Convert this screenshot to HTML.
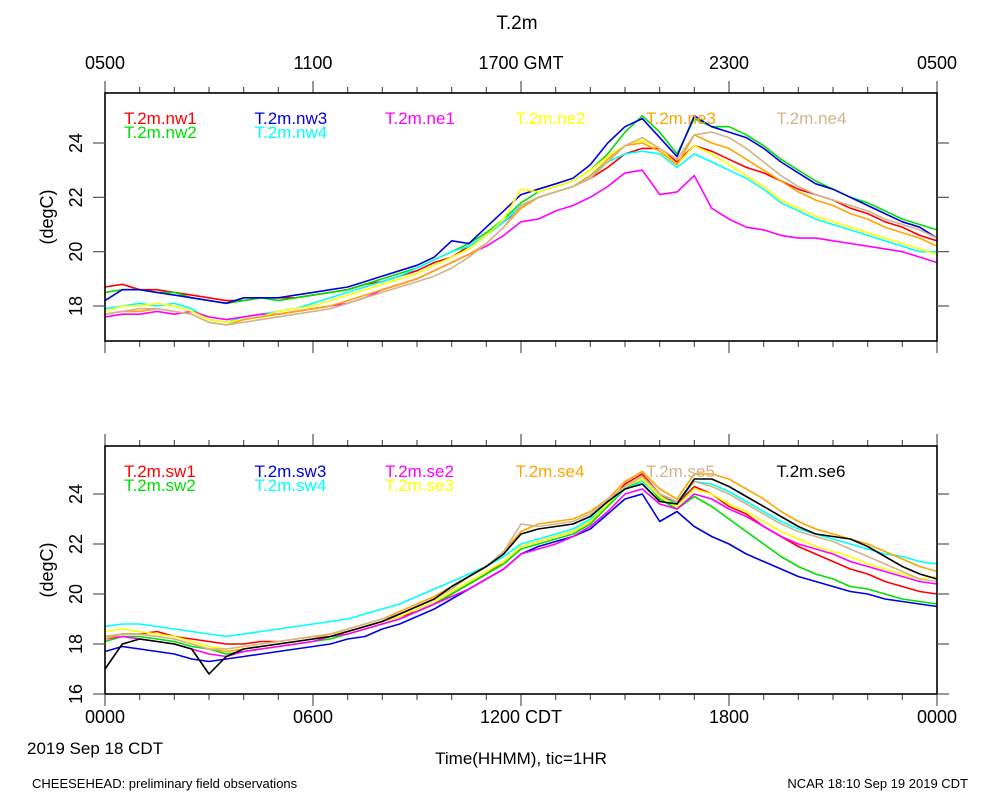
<!DOCTYPE html>
<html><head><meta charset="utf-8"><style>
body{margin:0;background:#fff;}
svg text{font-family:"Liberation Sans",sans-serif;}
</style></head><body>
<svg id="c" width="1000" height="800" xmlns="http://www.w3.org/2000/svg">
<text x="517" y="29" font-size="19" text-anchor="middle">T.2m</text>
<text x="27" y="754" font-size="17">2019 Sep 18 CDT</text>
<text x="521" y="764" font-size="17" text-anchor="middle">Time(HHMM), tic=1HR</text>
<text x="32" y="788" font-size="13">CHEESEHEAD: preliminary field observations</text>
<text x="968" y="788" font-size="13" text-anchor="end">NCAR 18:10 Sep 19 2019 CDT</text>
</svg>
<script>
const hours=[0,0.5,1,1.5,2,2.5,3,3.5,4,4.5,5,5.5,6,6.5,7,7.5,8,8.5,9,9.5,10,10.5,11,11.5,12,12.5,13,13.5,14,14.5,15,15.5,16,16.5,17,17.5,18,18.5,19,19.5,20,20.5,21,21.5,22,22.5,23,23.5,24];
const topTickLabels=["0500","1100","1700 GMT","2300","0500"];
const botTickLabels=["0000","0600","1200 CDT","1800","0000"];
const topYTicks=[18,20,22,24];
const botYTicks=[16,18,20,22,24];
const topNames=["T.2m.nw1","T.2m.nw2","T.2m.nw3","T.2m.nw4","T.2m.ne1","T.2m.ne2","T.2m.ne3","T.2m.ne4"];
const topColors=["#ff0000","#00e000","#0000e0","#00ffff","#ff00ff","#ffff00","#ffa500","#d2b48c"];
const nw1=[18.7,18.8,18.6,18.6,18.5,18.4,18.3,18.2,18.2,18.3,18.3,18.3,18.4,18.5,18.6,18.8,18.9,19.1,19.3,19.6,19.8,20.2,20.6,21.1,21.6,22.0,22.2,22.4,22.7,23.1,23.6,23.8,23.8,23.3,23.9,23.7,23.4,23.1,22.9,22.6,22.3,22.1,21.9,21.6,21.4,21.1,20.9,20.6,20.4];
const nw2=[18.5,18.6,18.6,18.5,18.5,18.3,18.2,18.1,18.2,18.3,18.2,18.3,18.4,18.5,18.6,18.8,19.0,19.2,19.4,19.7,20.0,20.3,20.7,21.2,21.8,22.2,22.4,22.6,23.0,23.6,24.4,25.0,24.4,23.6,24.9,24.6,24.6,24.3,23.9,23.4,23.0,22.6,22.3,22.0,21.8,21.5,21.2,21.0,20.8];
const nw3=[18.2,18.6,18.6,18.5,18.4,18.3,18.2,18.1,18.3,18.3,18.3,18.4,18.5,18.6,18.7,18.9,19.1,19.3,19.5,19.8,20.4,20.3,20.9,21.5,22.1,22.3,22.5,22.7,23.2,24.0,24.6,24.9,24.2,23.5,25.0,24.6,24.4,24.2,23.8,23.3,22.9,22.5,22.3,22.0,21.7,21.4,21.1,20.9,20.5];
const nw4=[17.9,18.0,18.1,18.0,18.1,17.9,17.5,17.4,17.6,17.7,17.8,17.9,18.1,18.3,18.5,18.7,18.9,19.1,19.4,19.7,20.0,20.2,20.6,21.1,21.7,22.0,22.2,22.4,22.8,23.3,23.6,23.7,23.6,23.1,23.6,23.3,23.0,22.7,22.3,21.8,21.5,21.2,21.0,20.8,20.6,20.4,20.2,20.0,20.0];
const ne1=[17.6,17.7,17.7,17.8,17.7,17.8,17.6,17.5,17.6,17.7,17.7,17.8,17.9,18.0,18.1,18.3,18.6,18.8,19.0,19.3,19.6,19.9,20.2,20.6,21.1,21.2,21.5,21.7,22.0,22.4,22.9,23.0,22.1,22.2,22.8,21.6,21.2,20.9,20.8,20.6,20.5,20.5,20.4,20.3,20.2,20.1,20.0,19.8,19.6];
const ne2=[17.8,18.0,18.0,18.1,18.0,17.8,17.5,17.4,17.5,17.6,17.8,17.9,18.0,18.2,18.4,18.6,18.8,19.0,19.2,19.5,19.8,20.1,20.6,21.2,22.3,22.2,22.4,22.6,23.0,23.5,23.9,24.1,23.8,23.2,23.9,23.6,23.2,22.8,22.4,21.9,21.6,21.3,21.1,20.9,20.7,20.5,20.3,20.1,19.9];
const ne3=[17.7,17.8,17.8,17.9,17.8,17.7,17.4,17.3,17.5,17.6,17.7,17.8,17.9,18.0,18.2,18.4,18.6,18.8,19.0,19.3,19.6,19.9,20.3,20.9,21.6,22.0,22.2,22.4,22.8,23.4,23.9,24.0,23.7,23.2,24.3,24.0,23.8,23.4,23.0,22.6,22.2,21.9,21.7,21.4,21.2,20.9,20.7,20.5,20.2];
const ne4=[17.7,17.8,17.9,17.9,17.8,17.7,17.4,17.3,17.4,17.5,17.6,17.7,17.8,17.9,18.1,18.3,18.5,18.7,18.9,19.1,19.4,19.8,20.3,20.9,21.7,22.0,22.2,22.4,22.7,23.3,23.9,24.2,23.8,23.4,24.3,24.4,24.2,23.8,23.3,22.8,22.4,22.1,21.9,21.7,21.5,21.2,21.0,20.8,20.5];
const botNames=["T.2m.sw1","T.2m.sw2","T.2m.sw3","T.2m.sw4","T.2m.se2","T.2m.se3","T.2m.se4","T.2m.se5","T.2m.se6"];
const botColors=["#ff0000","#00e000","#0000e0","#00ffff","#ff00ff","#ffff00","#ffa500","#d2b48c","#000000"];
const sw1=[18.3,18.4,18.4,18.5,18.3,18.2,18.1,18.0,18.0,18.1,18.1,18.2,18.3,18.4,18.5,18.7,18.9,19.1,19.3,19.6,20.0,20.4,20.8,21.3,21.9,22.1,22.3,22.5,22.9,23.6,24.4,24.8,24.0,23.6,24.3,24.0,23.5,23.2,22.7,22.3,21.9,21.6,21.3,21.0,20.8,20.5,20.3,20.1,20.0];
const sw2=[18.1,18.3,18.3,18.2,18.1,17.9,17.8,17.6,17.7,17.8,17.9,18.0,18.1,18.2,18.4,18.6,18.8,19.0,19.3,19.6,20.0,20.4,20.8,21.2,21.8,22.0,22.2,22.4,22.8,23.5,24.2,24.6,23.8,23.4,23.9,23.5,23.0,22.5,22.0,21.5,21.1,20.8,20.6,20.3,20.2,20.0,19.8,19.7,19.6];
const sw3=[17.7,17.9,17.8,17.7,17.6,17.4,17.3,17.4,17.5,17.6,17.7,17.8,17.9,18.0,18.2,18.3,18.6,18.8,19.1,19.4,19.8,20.2,20.6,21.0,21.6,21.9,22.1,22.3,22.6,23.2,23.8,24.0,22.9,23.3,22.7,22.3,22.0,21.6,21.3,21.0,20.7,20.5,20.3,20.1,20.0,19.8,19.7,19.6,19.5];
const sw4=[18.7,18.8,18.8,18.7,18.6,18.5,18.4,18.3,18.4,18.5,18.6,18.7,18.8,18.9,19.0,19.2,19.4,19.6,19.9,20.2,20.5,20.8,21.1,21.5,22.0,22.2,22.4,22.6,23.0,23.6,24.2,24.5,23.9,23.6,24.5,24.4,24.1,23.7,23.3,22.9,22.6,22.4,22.2,22.0,21.8,21.6,21.5,21.3,21.2];
const se2=[18.2,18.3,18.2,18.1,18.0,17.8,17.6,17.5,17.7,17.8,17.9,18.0,18.1,18.3,18.4,18.6,18.8,19.0,19.3,19.6,19.9,20.2,20.6,21.0,21.6,21.8,22.0,22.3,22.7,23.3,24.0,24.2,23.6,23.4,24.0,23.8,23.4,23.1,22.7,22.3,22.0,21.8,21.6,21.3,21.1,20.9,20.7,20.5,20.4];
const se3=[18.5,18.6,18.5,18.4,18.3,18.1,17.9,17.8,17.9,18.0,18.1,18.2,18.3,18.4,18.5,18.7,18.9,19.1,19.4,19.7,20.1,20.5,20.9,21.3,21.9,22.1,22.3,22.5,22.9,23.6,24.3,24.6,23.9,23.5,24.2,24.0,23.6,23.3,22.9,22.5,22.2,21.9,21.7,21.5,21.2,21.0,20.8,20.6,20.7];
const se4=[18.2,18.4,18.4,18.3,18.2,18.0,17.8,17.7,17.8,17.9,18.0,18.1,18.2,18.4,18.6,18.8,19.0,19.3,19.6,19.9,20.3,20.7,21.1,21.7,22.5,22.8,22.9,23.0,23.3,23.8,24.5,24.9,24.2,23.8,24.8,24.8,24.6,24.2,23.8,23.3,22.9,22.6,22.4,22.2,22.0,21.7,21.4,21.1,20.9];
const se5=[18.3,18.4,18.4,18.3,18.2,18.0,17.8,17.8,17.9,18.0,18.1,18.2,18.3,18.4,18.6,18.8,19.0,19.2,19.5,19.8,20.2,20.7,21.1,21.7,22.8,22.7,22.8,22.9,23.2,23.8,24.3,24.7,24.0,23.7,24.5,24.3,24.0,23.6,23.2,22.8,22.5,22.3,22.1,21.8,21.5,21.2,20.9,20.6,20.5];
const se6=[17.0,18.0,18.2,18.1,18.0,17.8,16.8,17.5,17.8,17.9,18.0,18.1,18.2,18.3,18.5,18.7,18.9,19.2,19.5,19.8,20.3,20.7,21.1,21.6,22.4,22.6,22.7,22.8,23.1,23.7,24.2,24.4,23.7,23.6,24.6,24.6,24.3,23.9,23.5,23.1,22.7,22.4,22.3,22.2,21.9,21.5,21.1,20.8,20.6];
const topSeries=[nw1,nw2,nw3,nw4,ne1,ne2,ne3,ne4];
const botSeries=[sw1,sw2,sw3,sw4,se2,se3,se4,se5,se6];

const NS="http://www.w3.org/2000/svg";
const svg=document.getElementById('c');
const X0=105,X1=937;
function xs(h){return X0+(X1-X0)*h/24;}
function mk(tag,attrs,parent){const e=document.createElementNS(NS,tag);for(const k in attrs)e.setAttribute(k,attrs[k]);(parent||svg).appendChild(e);return e;}

function panel(p){
  const g=mk('g',{});
  
  
  const ys=v=>p.y0+(p.y1-p.y0)*(v-p.v0)/(p.v1-p.v0);
  p.series.forEach((s,si)=>{
    const d=s.map((v,i)=>(i?'L':'M')+xs(hours[i]).toFixed(1)+','+ys(v).toFixed(1)).join('');
    const path=mk('path',{d:d,fill:'none',stroke:p.colors[si],'stroke-width':1.6,'stroke-linejoin':'round'},g);
    
    
  });
  for(let h=0;h<=24;h++){
    const x=xs(h);
    const len=(h%6==0)?12:6;
    const t=mk('line',{x1:x,x2:x,y1:p.yt,y2:p.yt-len,stroke:'#555','stroke-width':1.2},g);
    
    
    const t2=mk('line',{x1:x,x2:x,y1:p.yb,y2:p.yb+len,stroke:'#555','stroke-width':1.2},g);
    
    
  }
  const frame=mk('rect',{x:X0,y:p.yt,width:X1-X0,height:p.yb-p.yt,fill:'none',stroke:'#000','stroke-width':1.6},g);
  
  
  p.tickLabels.forEach((lab,i)=>{
    const t=mk('text',{x:xs(i*6),y:p.labY,'font-size':18,'text-anchor':'middle'},g);
    t.textContent=lab;
    
    
  });
  p.yticks.forEach(v=>{
    const y=ys(v);
    const a=mk('line',{x1:X0-12,x2:X0,y1:y,y2:y,stroke:'#555','stroke-width':1.2},g);
    
    
    const b=mk('line',{x1:X1,x2:X1+12,y1:y,y2:y,stroke:'#555','stroke-width':1.2},g);
    
    
    const t=mk('text',{x:0,y:0,'font-size':18,'text-anchor':'middle',transform:'translate(82,'+y+') rotate(-90)'},g);
    t.textContent=v;
    
    
  });
  const yt=mk('text',{x:0,y:0,'font-size':18,'text-anchor':'middle',transform:'translate(53,'+((p.yt+p.yb)/2)+') rotate(-90)'},g);
  yt.textContent='(degC)';
  
  
  p.names.forEach((n,i)=>{
    const t=mk('text',{x:124+p.legendCols[i]*130.5,y:p.yt+31+p.legendRows[i]*14,'font-size':17,fill:p.colors[i]},g);
    t.textContent=n;
    
    
  });
}
panel({name:'top-panel',yt:93,yb:341,v0:18,y0:306,v1:24,y1:143,series:topSeries,colors:topColors,names:topNames,
  tickLabels:topTickLabels,labY:69,yticks:topYTicks,legendCols:[0,0,1,1,2,3,4,5],legendRows:[0,1,0,1,0,0,0,0]});
panel({name:'bottom-panel',yt:446,yb:694,v0:16,y0:694,v1:24,y1:494,series:botSeries,colors:botColors,names:botNames,
  tickLabels:botTickLabels,labY:723,yticks:botYTicks,legendCols:[0,0,1,1,2,2,3,4,5],legendRows:[0,1,0,1,0,1,0,0,0]});
</script>
</body></html>
